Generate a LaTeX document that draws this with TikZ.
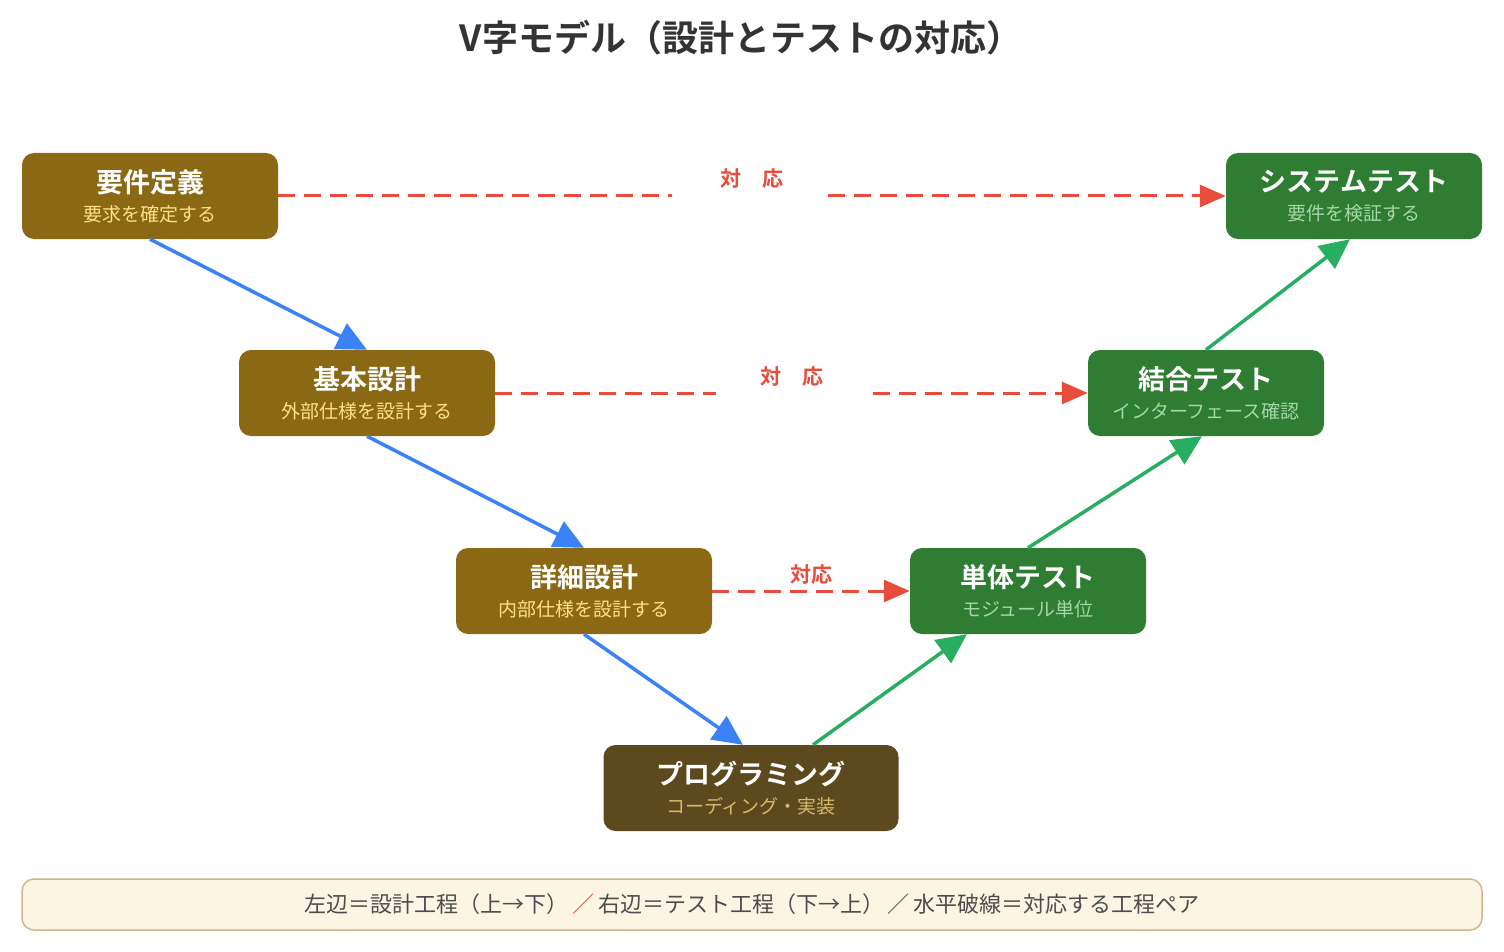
\documentclass[tikz,border=0pt]{standalone}
\usepackage{fontspec}
\setmainfont{Noto Sans CJK JP}
\newfontfamily\jpbold{Noto Sans CJK JP Bold}
\usetikzlibrary{positioning, arrows.meta}
\definecolor{designbrown}{HTML}{8B6914}
\definecolor{testgreen}{HTML}{2E7D32}
\definecolor{codebrown}{HTML}{5C4A1E}
\definecolor{downblue}{HTML}{3B82F6}
\definecolor{upgreen}{HTML}{27AE60}
\definecolor{pairred}{HTML}{E74C3C}
\definecolor{subyellow}{HTML}{FFE08A}
\definecolor{subgreen}{HTML}{A5D6A7}
\definecolor{subtan}{HTML}{D9B86C}
\definecolor{notefill}{HTML}{FDF5E4}
\definecolor{noteline}{HTML}{D4B48C}
\tikzset{phase/.style={
        rectangle,
        rounded corners=12pt,
        minimum width=256pt,
        minimum height=86pt,
        align=center,
        text=white,
        inner sep=0pt,
        font=\fontsize{19pt}{29pt}\selectfont
}}
\tikzset{design/.style={phase, fill=designbrown}}
\tikzset{testing/.style={phase, fill=testgreen, minimum width=236pt}}
\tikzset{downedge/.style={draw=downblue, line width=3.5pt, -{Triangle[length=30pt,width=28pt]}}}
\tikzset{upedge/.style={draw=upgreen, line width=3.5pt, -{Triangle[length=30pt,width=28pt]}}}
\tikzset{pairedge/.style={draw=pairred, line width=3pt, dash pattern=on 17pt off 9pt}}
\tikzset{pairlabel/.style={text=pairred, font=\jpbold\fontsize{21pt}{24pt}\selectfont}}
\newcommand{\phasetext}[3]{{\jpbold\fontsize{27pt}{29pt}\selectfont #1}\\{\color{#3}\fontsize{19pt}{29pt}\selectfont #2}}

\begin{document}
\begin{tikzpicture}[x=1pt,y=-1pt]
\useasboundingbox (0,0) rectangle (1504,952);
\node[font=\jpbold\fontsize{36pt}{40pt}\selectfont, text=black!80] (title) at (741,38) {V字モデル（設計とテストの対応）};

\node[design] (req) at (150,196) {\phasetext{要件定義}{要求を確定する}{subyellow}};
\node[design] (basic) at (367,393) {\phasetext{基本設計}{外部仕様を設計する}{subyellow}};
\node[design] (detail) at (584,591) {\phasetext{詳細設計}{内部仕様を設計する}{subyellow}};
\node[phase, fill=codebrown, minimum width=295pt] (code) at (751,788) {\phasetext{プログラミング}{コーディング・実装}{subtan}};
\node[testing] (unit) at (1028,591) {\phasetext{単体テスト}{モジュール単位}{subgreen}};
\node[testing] (integ) at (1206,393) {\phasetext{結合テスト}{インターフェース確認}{subgreen}};
\node[design, fill=testgreen] (sys) at (1354,196) {\phasetext{システムテスト}{要件を検証する}{subgreen}};

\draw[downedge] (req.south) -- (basic.north);
\draw[downedge] (basic.south) -- (detail.north);
\draw[downedge] (detail.south) -- ([xshift=-8pt]code.north);
\draw[upedge] ([xshift=62pt]code.north) -- ([xshift=-61pt]unit.south);
\draw[upedge] (unit.north) -- ([xshift=-4pt]integ.south);
\draw[upedge] (integ.north) -- ([xshift=-4pt]sys.south);

% correspondence lines
\coordinate (gap1a) at (672,196);
\coordinate (gap1b) at (828,196);
\draw[pairedge] (req.east) -- (gap1a);
\draw[pairedge, -{Triangle[length=26pt,width=22pt]}] (gap1b) -- (sys.west);
\node[pairlabel] (pair1) at (752,179) {対\quad 応};
\coordinate (gap2a) at (716,393);
\coordinate (gap2b) at (873,393);
\draw[pairedge] (basic.east) -- (gap2a);
\draw[pairedge, -{Triangle[length=26pt,width=22pt]}] (gap2b) -- (integ.west);
\node[pairlabel] (pair2) at (792,377) {対\quad 応};
\draw[pairedge, -{Triangle[length=26pt,width=22pt]}] (detail.east) -- (unit.west);
\node[pairlabel] (pair3) at (811,575) {対応};

\node[draw=noteline, fill=notefill, line width=1.5pt, rounded corners=12pt, minimum width=1460pt, minimum height=51pt, text=black!70, font=\fontsize{22pt}{24pt}\selectfont] (note) at (752,904.5) {左辺＝設計工程（上→下）\,{\color{pairred}／}\,右辺＝テスト工程（下→上）\,／\,水平破線＝対応する工程ペア};
\end{tikzpicture}
\end{document}
